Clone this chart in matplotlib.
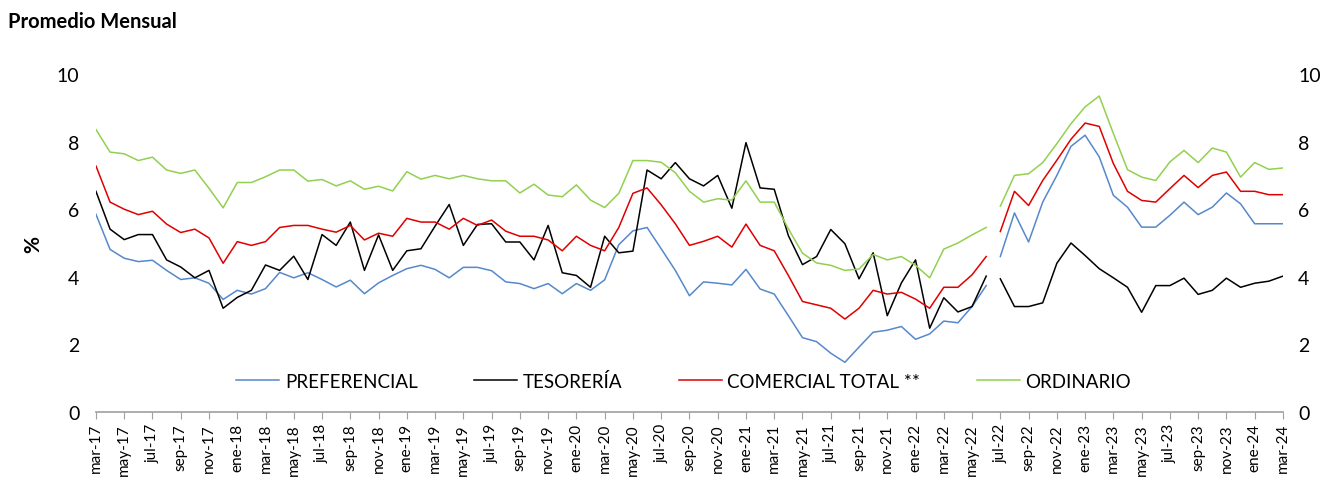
import numpy as np
import matplotlib
matplotlib.use('Agg')
from matplotlib import pyplot as plt

plt.rcParams['font.family'] = ['Lato', 'DejaVu Sans']

# meses mar-17 ... mar-24
meses_es = ['ene', 'feb', 'mar', 'abr', 'may', 'jun', 'jul', 'ago', 'sep', 'oct', 'nov', 'dic']
fechas = []
for k in range(85):
    m = (2 + k) % 12
    a = 17 + (2 + k) // 12
    fechas.append(meses_es[m] + '-' + str(a))

# tramo 1: mar-17 a jun-22, tramo 2: jul-22 a mar-24
preferencial = [5.85, 4.81, 4.55, 4.45, 4.49, 4.19, 3.92, 3.97, 3.81, 3.33, 3.60, 3.49, 3.65, 4.13, 3.97, 4.12,
                3.92, 3.70, 3.90, 3.50, 3.82, 4.04, 4.24, 4.34, 4.22, 3.97, 4.28, 4.28, 4.18, 3.85, 3.80, 3.65,
                3.80, 3.50, 3.80, 3.60, 3.91, 4.95, 5.36, 5.46, 4.83, 4.19, 3.44, 3.85, 3.81, 3.76, 4.22, 3.64,
                3.49, 2.85, 2.20, 2.08, 1.74, 1.47, 1.92, 2.36, 2.42, 2.53, 2.15, 2.31, 2.69, 2.64, 3.12, 3.74,
                4.60, 5.89, 5.03, 6.21, 7.00, 7.86, 8.19, 7.55, 6.41, 6.06, 5.47, 5.47, 5.82, 6.21, 5.84, 6.06,
                6.48, 6.16, 5.57, 5.57, 5.57]
tesoreria = [6.53, 5.41, 5.10, 5.25, 5.25, 4.50, 4.29, 3.97, 4.19, 3.07, 3.39, 3.60, 4.35, 4.19, 4.61, 3.92,
             5.25, 4.93, 5.62, 4.19, 5.24, 4.19, 4.77, 4.83, 5.50, 6.14, 4.93, 5.55, 5.57, 5.03, 5.03, 4.50,
             5.52, 4.12, 4.04, 3.69, 5.20, 4.71, 4.76, 7.16, 6.90, 7.38, 6.90, 6.69, 7.00, 6.03, 7.97, 6.63,
             6.59, 5.22, 4.36, 4.60, 5.40, 4.98, 3.94, 4.71, 2.85, 3.82, 4.50, 2.48, 3.38, 2.96, 3.12, 4.02,
             3.94, 3.12, 3.12, 3.23, 4.40, 5.00, 4.63, 4.24, 3.97, 3.69, 2.95, 3.74, 3.74, 3.96, 3.48, 3.60,
             3.96, 3.69, 3.81, 3.87, 4.02]
comercial = [7.28, 6.21, 6.00, 5.84, 5.94, 5.56, 5.31, 5.41, 5.15, 4.40, 5.04, 4.93, 5.04, 5.46, 5.52, 5.52,
             5.41, 5.32, 5.52, 5.09, 5.29, 5.20, 5.73, 5.62, 5.62, 5.41, 5.73, 5.52, 5.68, 5.35, 5.20, 5.20,
             5.09, 4.77, 5.20, 4.93, 4.77, 5.46, 6.47, 6.63, 6.13, 5.57, 4.93, 5.05, 5.20, 4.88, 5.56, 4.93,
             4.77, 4.04, 3.27, 3.17, 3.07, 2.75, 3.07, 3.60, 3.49, 3.54, 3.34, 3.07, 3.69, 3.69, 4.06, 4.60,
             5.34, 6.53, 6.11, 6.85, 7.45, 8.07, 8.55, 8.45, 7.35, 6.53, 6.26, 6.21, 6.61, 7.00, 6.64, 7.00,
             7.10, 6.53, 6.53, 6.43, 6.43]
ordinario = [8.36, 7.69, 7.64, 7.44, 7.54, 7.16, 7.06, 7.16, 6.62, 6.04, 6.79, 6.79, 6.96, 7.16, 7.16, 6.83,
             6.88, 6.69, 6.84, 6.59, 6.68, 6.54, 7.11, 6.89, 7.00, 6.90, 7.00, 6.90, 6.84, 6.84, 6.48, 6.74,
             6.42, 6.37, 6.72, 6.27, 6.05, 6.47, 7.44, 7.44, 7.39, 7.08, 6.53, 6.21, 6.31, 6.27, 6.84, 6.21,
             6.21, 5.42, 4.70, 4.41, 4.34, 4.19, 4.23, 4.66, 4.50, 4.60, 4.34, 3.97, 4.82, 5.00, 5.24, 5.46,
             6.09, 7.00, 7.05, 7.38, 7.94, 8.53, 9.03, 9.35, 8.24, 7.17, 6.95, 6.85, 7.40, 7.74, 7.38, 7.81,
             7.69, 6.95, 7.38, 7.18, 7.22]
corte = 64  # jul-22: inicio de la nueva serie

series = [('PREFERENCIAL', preferencial, '#5588CC'),
          ('TESORERÍA', tesoreria, '#000000'),
          ('COMERCIAL TOTAL **', comercial, '#E00000'),
          ('ORDINARIO', ordinario, '#92D050')]

fig = plt.figure(figsize=(13.27, 4.81), dpi=100)
ax = fig.add_axes([0.0723, 0.1414, 0.8945, 0.7026])
x = np.arange(len(fechas))
for nombre, v, c in series:
    v = np.array(v)
    ax.plot(x[:corte], v[:corte], color=c, lw=1.1, label=nombre)
    ax.plot(x[corte:], v[corte:], color=c, lw=1.1)

ax.set_xlim(0, len(fechas) - 1)
ax.set_ylim(0, 10)
ax.set_yticks([0, 2, 4, 6, 8, 10])
ax.set_xticks(x[::2])
ax.set_xticklabels(fechas[::2], rotation=90, fontsize=11)
ax.tick_params(axis='x', length=5, color='#A0A0A0', pad=3)
ax.tick_params(axis='y', length=0, labelsize=14, pad=12)
for s in ['top', 'right', 'left']:
    ax.spines[s].set_visible(False)
ax.spines['bottom'].set_color('#A0A0A0')
ax.spines['bottom'].set_linewidth(1.2)

ax2 = ax.twinx()
ax2.set_ylim(0, 10)
ax2.set_yticks([0, 2, 4, 6, 8, 10])
ax2.tick_params(axis='y', length=0, labelsize=14, pad=11)
for s in ax2.spines.values():
    s.set_visible(False)

ax.set_ylabel('%', fontsize=15, fontweight='bold', labelpad=10)

ax.legend(loc='lower center', bbox_to_anchor=(0.495, 0.015), ncol=4, frameon=False,
          fontsize=13.5, handlelength=2.3, columnspacing=3.0, handletextpad=0.3)

fig.text(0.006, 0.955, 'Promedio Mensual', fontsize=14.5, fontweight='bold', va='center')
fig.text(0.006, 1.018, 'Tasas de Interés Activas del Sistema (en %)', fontsize=14,
         fontweight='bold', va='center')

plt.savefig('out.png', dpi=100)
